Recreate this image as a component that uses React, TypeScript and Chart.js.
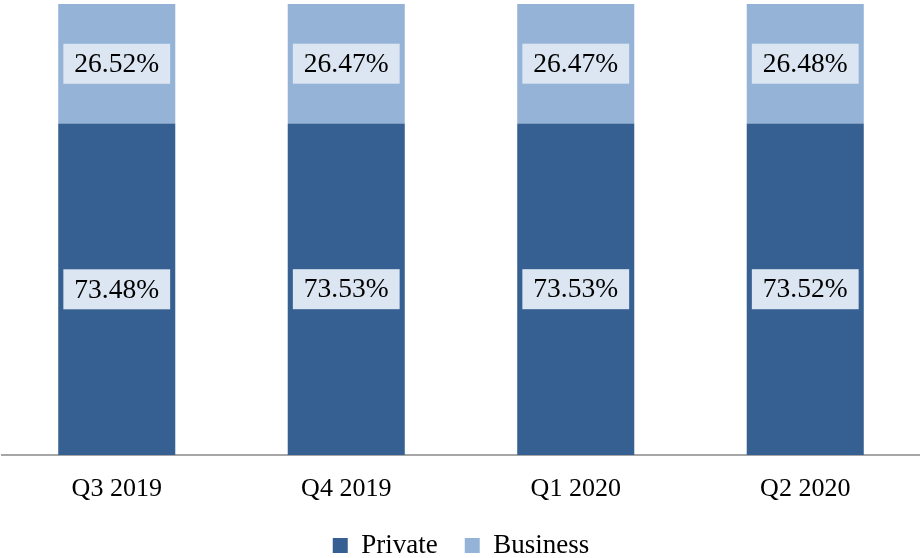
import React, { useEffect, useRef } from "react";
import { Chart, registerables } from "chart.js";

Chart.register(...registerables);

const categories = ["Q3 2019", "Q4 2019", "Q1 2020", "Q2 2020"];
const privateValues = [73.48, 73.53, 73.53, 73.52];
const businessValues = [26.52, 26.47, 26.47, 26.48];

const FONT = "'Liberation Serif', 'DejaVu Serif', serif";

const labelPlugin = {
  id: "boxLabels",
  beforeLayout(chart: any) {
    const lg = chart.legend;
    if (lg && !lg._patched) {
      const orig = lg.fit;
      lg.fit = function () {
        orig.call(this);
        this.height = 53;
      };
      lg._patched = true;
    }
  },
  afterDatasetsDraw(chart: any) {
    const ctx = chart.ctx;
    ctx.save();
    ctx.font = `27.5px ${FONT}`;
    ctx.textAlign = "center";
    ctx.textBaseline = "middle";
    chart.data.datasets.forEach((ds: any, di: number) => {
      const meta = chart.getDatasetMeta(di);
      meta.data.forEach((bar: any, i: number) => {
        const v = ds.data[i];
        const text = v.toFixed(2) + "%";
        const cx = bar.x;
        const cy = (bar.y + bar.base) / 2;
        const w = ctx.measureText(text).width + 22;
        const h = 40;
        ctx.fillStyle = "#dce6f2";
        ctx.fillRect(cx - w / 2, cy - h / 2, w, h);
        ctx.fillStyle = "#000000";
        ctx.fillText(text, cx, cy + 1);
      });
    });
    ctx.restore();
  },
};

export default function App() {
  const ref = useRef<HTMLCanvasElement>(null);
  useEffect(() => {
    document.body.style.margin = "0";
    const chart = new Chart(ref.current!, {
      type: "bar",
      data: {
        labels: categories,
        datasets: [
          {
            label: "Private",
            data: privateValues,
            backgroundColor: "#376092",
            categoryPercentage: 1,
            barPercentage: 0.51,
          },
          {
            label: "Business",
            data: businessValues,
            backgroundColor: "#95b3d7",
            categoryPercentage: 1,
            barPercentage: 0.51,
          },
        ],
      },
      options: {
        animation: false,
        responsive: false,
        maintainAspectRatio: false,
        layout: { padding: { top: 4, left: 2, right: 0, bottom: 0 } },
        plugins: {
          legend: {
            position: "bottom",
            labels: {
              font: { family: FONT, size: 27 },
              color: "#000000",
              boxWidth: 15,
              boxHeight: 15,
              padding: 27,
            },
          },
          tooltip: { enabled: false },
        },
        scales: {
          x: {
            stacked: true,
            grid: { display: false, drawTicks: false },
            border: { color: "#a6a6a6", width: 2 },
            ticks: {
              font: { family: FONT, size: 26 },
              color: "#000000",
              padding: 19,
              maxRotation: 0,
            },
            afterFit: (scale: any) => {
              scale.height = 50;
            },
          },
          y: {
            stacked: true,
            display: false,
            min: 0,
            max: 100,
          },
        },
      },
      plugins: [labelPlugin],
    });
    return () => chart.destroy();
  }, []);
  return (
    <div style={{ position: "fixed", left: 0, top: 0, width: 920, height: 558 }}>
      <canvas ref={ref} width={920} height={558} style={{ width: 920, height: 558 }} />
    </div>
  );
}
